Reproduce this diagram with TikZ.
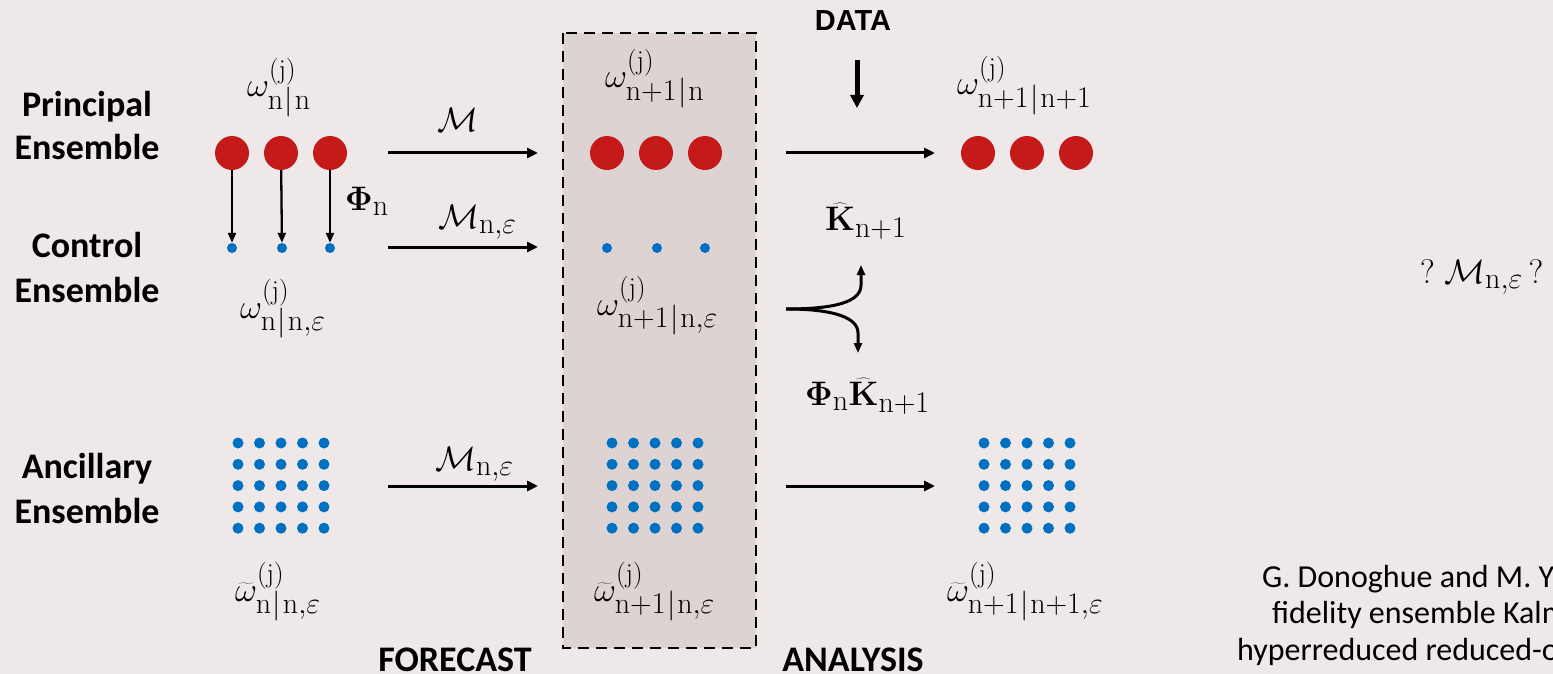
\RequirePackage{fix-cm}
\documentclass[tikz,border=0pt]{standalone}
\usepackage[no-math]{fontspec}
\newfontfamily\carlito{Carlito}
\newfontfamily\arialfont{Liberation Sans}
\usetikzlibrary{arrows.meta}
\newcommand{\smallmath}[1]{\hbox{\fontsize{27}{30}\selectfont$#1$}}
\newcommand{\submath}[1]{\hbox{\fontsize{30}{33}\selectfont$#1$}}
\newcommand{\condbar}{\mkern1mu|\mkern1mu}
\definecolor{bg}{HTML}{EEE8E8}
\definecolor{boxfill}{HTML}{DDD3D3}
\definecolor{dotred}{HTML}{C41A1A}
\definecolor{dotblue}{HTML}{0070C0}
\tikzset{
  lab/.style={font=\carlito\bfseries\fontsize{36}{44}\selectfont, inner sep=0pt, anchor=base},
  mth/.style={font=\fontsize{34}{40}\selectfont, inner sep=0pt, anchor=base west},
  reddot/.style={circle, fill=dotred, minimum size=34pt, inner sep=0pt},
  bluedot/.style={circle, fill=dotblue, minimum size=10pt, inner sep=0pt},
  griddot/.style={circle, fill=dotblue, minimum size=11pt, inner sep=0pt},
  arr/.style={line width=3pt, -{Triangle[length=11pt,width=10pt]}},
  varr/.style={line width=2.3pt, -{Triangle[length=10pt,width=8pt]}},
  cite/.style={font=\carlito\fontsize{32}{37}\selectfont, inner sep=0pt, anchor=base west}
}
\begin{document}
\begin{tikzpicture}[x=1pt,y=-1pt]
\path[fill=bg, use as bounding box] (0,0) rectangle (1553,674);
% forecast box
\draw[fill=boxfill, line width=2.5pt, dash pattern=on 11pt off 7pt] (563,33) rectangle (756,648);
% row labels
\node[lab] (pr1) at (87,117) {Principal};
\node[lab] (pr2) at (87,160) {Ensemble};
\node[lab] (co1) at (87,257) {Control};
\node[lab] (co2) at (87,302) {Ensemble};
\node[lab] (an1) at (87,478) {Ancillary};
\node[lab] (an2) at (87,523) {Ensemble};
\node[lab] (fc) at (455,671) {FORECAST};
\node[lab] (ana) at (853,671) {ANALYSIS};
\node[font=\arialfont\bfseries\fontsize{29}{34}\selectfont, inner sep=0pt, anchor=base] (data) at (853,31) {DATA};
% red dots
\foreach \x [count=\i] in {232,281,330} \node[reddot] (p\i) at (\x,153) {};
\foreach \x [count=\i] in {607,656,705} \node[reddot] (q\i) at (\x,153) {};
\foreach \x [count=\i] in {978,1027,1076} \node[reddot] (r\i) at (\x,153) {};
% blue control dots
\foreach \x [count=\i] in {232,282,330} \node[bluedot] (c\i) at (\x,248) {};
\foreach \x [count=\i] in {607,657,705} \node[bluedot] (d\i) at (\x,248) {};
% grids
\foreach \i in {0,...,4} \foreach \j in {0,...,4} {
  \node[griddot] (ga\i\j) at (238+21.5*\i,443+21.3*\j) {};
  \node[griddot] (gb\i\j) at (612+21.5*\i,443+21.3*\j) {};
  \node[griddot] (gc\i\j) at (984+21.5*\i,443+21.3*\j) {};
}
% vertical Phi arrows
\foreach \i in {1,2,3} \draw[varr] (p\i) -- (c\i);
% omega labels
\node[mth] (w1) at (247,97) {$\omega^{\smallmath{\mathrm{(j)}}}_{\submath{\mathrm{n}\condbar\mathrm{n}}}$};
\node[mth] (w2) at (240,318) {$\omega^{\smallmath{\mathrm{(j)}}}_{\submath{\mathrm{n}\condbar\mathrm{n}{,}\varepsilon}}$};
\node[mth] (w3) at (605,88) {$\omega^{\smallmath{\mathrm{(j)}}}_{\submath{\mathrm{n{+}1}\condbar\mathrm{n}}}$};
\node[mth] (w4) at (597,315) {$\omega^{\smallmath{\mathrm{(j)}}}_{\submath{\mathrm{n{+}1}\condbar\mathrm{n}{,}\varepsilon}}$};
\node[mth] (w5) at (957,95) {$\omega^{\smallmath{\mathrm{(j)}}}_{\submath{\mathrm{n{+}1}\condbar\mathrm{n{+}1}}}$};
\node[mth] (wt1) at (235,601) {$\widetilde{\omega}^{\smallmath{\mathrm{(j)}}}_{\submath{\mathrm{n}\condbar\mathrm{n}{,}\varepsilon}}$};
\node[mth] (wt2) at (594,601) {$\widetilde{\omega}^{\smallmath{\mathrm{(j)}}}_{\submath{\mathrm{n{+}1}\condbar\mathrm{n}{,}\varepsilon}}$};
\node[mth] (wt3) at (947,601) {$\widetilde{\omega}^{\smallmath{\mathrm{(j)}}}_{\submath{\mathrm{n{+}1}\condbar\mathrm{n{+}1}{,}\varepsilon}}$};
% operator labels
\node[mth, anchor=base] (m1) at (458,132) {$\mathcal{M}$};
\node[mth] (m2) at (438,228) {$\mathcal{M}_{\submath{\mathrm{n}{,}\varepsilon}}$};
\node[mth] (m3) at (435,470) {$\mathcal{M}_{\submath{\mathrm{n}{,}\varepsilon}}$};
\node[mth] (phi) at (345,210) {$\mathbf{\Phi}_{\submath{\mathrm{n}}}$};
\node[mth] (kh) at (825,230) {$\widehat{\mathbf{K}}_{\submath{\mathrm{n{+}1}}}$};
\node[mth] (phik) at (805,405) {$\mathbf{\Phi}_{\submath{\mathrm{n}}}\widehat{\mathbf{K}}_{\submath{\mathrm{n{+}1}}}$};
\node[mth] (qm) at (1420,283) {$?\;\mathcal{M}_{\submath{\mathrm{n}{,}\varepsilon}}\,?$};
% horizontal arrows
\coordinate (a1s) at (388,153); \coordinate (a1e) at (538,153);
\coordinate (a2s) at (388,247); \coordinate (a2e) at (538,247);
\coordinate (a3s) at (388,486); \coordinate (a3e) at (538,486);
\coordinate (b1s) at (786,153); \coordinate (b1e) at (935,153);
\coordinate (b3s) at (786,486); \coordinate (b3e) at (935,486);
\draw[arr] (a1s) -- (a1e);
\draw[arr] (a2s) -- (a2e);
\draw[arr] (a3s) -- (a3e);
\draw[arr] (b1s) -- (b1e);
\draw[arr] (b3s) -- (b3e);
% data arrow
\coordinate (ds) at (857,60); \coordinate (de) at (857,108);
\draw[line width=5pt, -{Triangle[length=13pt,width=13pt]}] (ds) -- (de);
% split arrow
\coordinate (sp) at (786,309);
\coordinate (up) at (861,265);
\coordinate (dn) at (858,353);
\draw[varr, line width=3pt] (sp) .. controls (835,309) and (861,302) .. (861,285) -- (up);
\draw[varr, line width=3pt] (sp) .. controls (835,309) and (858,318) .. (858,333) -- (dn);
% citation (cut off by the picture edge)
\begin{scope}
\clip (1200,560) rectangle (1553,674);
\node[cite] (ct1) at (1262,587) {G. Donoghue and M. Ya};
\node[cite] (ct2) at (1272,623) {fidelity ensemble Kalm};
\node[cite] (ct3) at (1237,660) {hyperreduced reduced-o};
\end{scope}
\end{tikzpicture}
\end{document}
